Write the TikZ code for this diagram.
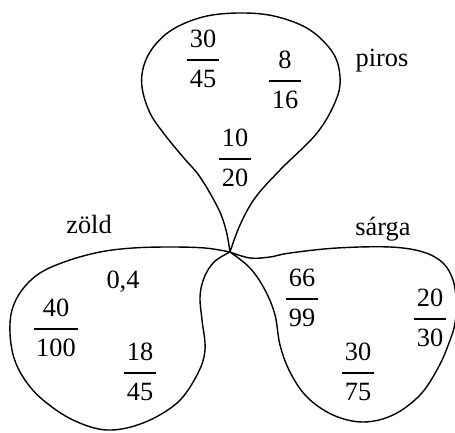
\documentclass[tikz,border=0pt]{standalone}
\usepackage{amsmath}
\usepackage{fontspec}
\setmainfont{Liberation Serif}
\usepackage{tikz}
\tikzset{
  petal/.style={draw=black, line width=0.8pt},
  num/.style={font=\fontsize{15}{18}\selectfont, inner sep=0pt},
  word/.style={font=\fontsize{15}{18}\selectfont, anchor=base, inner sep=0pt},
}
\newcommand\fr[2]{$\genfrac{}{}{0.9pt}{0}%
  {\text{\kern1.4pt#1\kern1.4pt}\rule[-3.7pt]{0pt}{3.7pt}}%
  {\rule{0pt}{12.4pt}\text{\kern1.4pt#2\kern1.4pt}}$}

\begin{document}
\begin{tikzpicture}[x=0.02cm, y=-0.02cm]
\useasboundingbox (0,0) rectangle (455,432);

% centre where the three petals meet
\coordinate (mid) at (230,252);

% top petal: piros
\draw[petal] plot[smooth, tension=0.6] coordinates {(mid) (226,230) (218,208)
  (200,177) (183,157) (165,135) (150,113) (142,87) (144,65) (155,45) (175,28)
  (207,16) (245,13) (278,17) (310,30) (333,53) (340,77) (336,100) (317,133)
  (280,170) (255,198) (240,225) (mid)};

% left petal: zold
\draw[petal] plot[smooth, tension=0.6] coordinates {(mid) (205,248) (170,247)
  (133,248) (100,252) (67,261) (40,273) (22,290) (12,310) (10,333) (14,358)
  (25,380) (43,400) (73,420) (107,430) (143,423) (177,403) (197,375) (205,350)
  (202,320) (200,297) (204,278) (214,262) (mid)};

% right petal: sarga
\draw[petal] plot[smooth, tension=0.6] coordinates {(mid) (250,258) (270,257)
  (290,253) (337,248) (390,247) (423,252) (443,263) (453,280) (456,300)
  (455,323) (449,343) (438,368) (420,395) (393,415) (363,422) (333,415)
  (307,397) (290,372) (280,345) (275,315) (265,290) (250,268) (mid)};

% labels of the sets
\node[word] (piros) at (382,67) {piros};
\node[word] (zold) at (89,233) {zöld};
\node[word] (sarga) at (383,235) {sárga};

% numbers in the top petal
\node[num] (f3045) at (203,59) {\fr{30}{45}};
\node[num] (f816) at (285,80) {\fr{8}{16}};
\node[num] (f1020) at (235,158) {\fr{10}{20}};

% numbers in the left petal
\node[word] (d04) at (123,288) {0,4};
\node[num] (f40100) at (56,328) {\fr{40}{100}};
\node[num] (f1845) at (140,372) {\fr{18}{45}};

% numbers in the right petal
\node[num] (f6699) at (302,298) {\fr{66}{99}};
\node[num] (f2030) at (430,318) {\fr{20}{30}};
\node[num] (f3075) at (358,372) {\fr{30}{75}};

\end{tikzpicture}
\end{document}
